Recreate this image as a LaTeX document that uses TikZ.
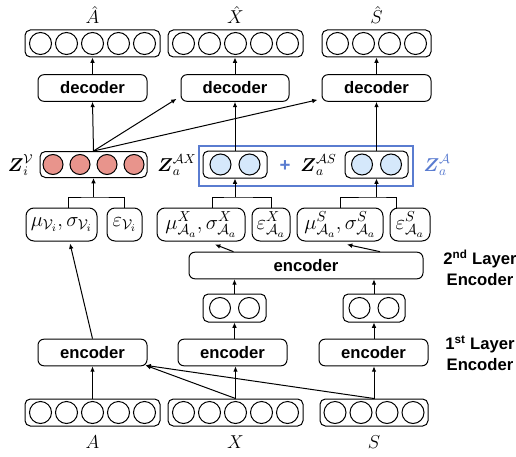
\RequirePackage{fix-cm}
\documentclass[tikz,border=0pt]{standalone}
\usepackage{amsmath}
\usepackage{fontspec}
\newfontfamily\hvfont{Liberation Sans}
\usetikzlibrary{arrows.meta,calc,positioning}

\definecolor{zblue}{RGB}{90,124,208}
\definecolor{cellred}{RGB}{232,148,140}
\definecolor{cellblue}{RGB}{213,232,251}

\tikzset{every picture/.style={line width=0.75pt}}
\tikzset{
  vecbox/.style={draw, rounded corners=4pt, minimum height=20.25pt, inner sep=0pt},
  cell/.style={draw, circle, inner sep=0pt, minimum size=16.5pt},
  codbox/.style={draw, rounded corners=4.5pt, minimum height=20pt, inner sep=0pt, font=\hvfont\bfseries\fontsize{12.5}{14}\selectfont},
  parbox/.style={draw, rounded corners=6pt, minimum height=24.75pt, inner sep=0pt, font=\fontsize{15.5}{17}\selectfont},
  varlab/.style={inner sep=0.75pt, font=\fontsize{14}{16}\selectfont},
  sidelab/.style={align=center, inner sep=0pt, font=\hvfont\bfseries\fontsize{12.5}{15.75}\selectfont},
  arr/.style={-{Latex[length=4pt,width=3.5pt]}},
}

\begin{document}
\begin{tikzpicture}[x=0.75pt,y=0.75pt,yscale=-1,xscale=1]
\useasboundingbox (0,0) rectangle (516,456);

% output vectors
\node[vecbox, minimum width=101.25pt] (Ahat) at (92.5,43.5) {};
\foreach \i in {1,...,5} \node[cell] (Ahat-\i) at ($(Ahat)+({(\i-3)*26},0)$) {};
\node[vecbox, minimum width=101.25pt] (Xhat) at (235.5,43.5) {};
\foreach \i in {1,...,5} \node[cell] (Xhat-\i) at ($(Xhat)+({(\i-3)*26},0)$) {};
\node[vecbox, minimum width=81.75pt] (Shat) at (376.5,43.5) {};
\foreach \i in {1,...,4} \node[cell] (Shat-\i) at ($(Shat)+({(\i-2.5)*26},0)$) {};

% Text Node
\node[varlab] (lAhat) at (92.5,15) {$\hat{A}$};
\node[varlab] (lXhat) at (235.5,15) {$\hat{X}$};
\node[varlab] (lShat) at (376.5,15) {$\hat{S}$};

% decoders
\node[codbox, minimum width=81.75pt] (dec1) at (92.5,88) {decoder};
\node[codbox, minimum width=81pt] (dec2) at (235,88) {decoder};
\node[codbox, minimum width=81.75pt] (dec3) at (376.5,88) {decoder};

% latent vectors
\node[vecbox, minimum width=80.25pt, minimum height=19.5pt] (zV) at (93.5,164.5) {};
\foreach \i in {1,...,4} \node[cell, fill=cellred, minimum size=15pt] (zV-\i) at ($(zV)+({(\i-2.5)*27},0)$) {};
\node[draw=zblue, line width=1.2pt, minimum width=160.5pt, minimum height=30pt, inner sep=0pt] (zA) at (306,166) {};
\node[vecbox, minimum width=48pt] (zAX) at (235,164.5) {};
\foreach \i in {1,2} \node[cell, fill=cellblue, minimum size=15.75pt] (zAX-\i) at ($(zAX)+({(\i-1.5)*29},0)$) {};
\node[vecbox, minimum width=47.25pt] (zAS) at (376.5,164.5) {};
\foreach \i in {1,2} \node[cell, fill=cellblue, minimum size=15.75pt] (zAS-\i) at ($(zAS)+({(\i-1.5)*29},0)$) {};

% Text Node
\node[varlab, anchor=east] (lzV) at (35,165) {$\boldsymbol{Z}_i^{\mathcal{V}}$};
\node[varlab, anchor=east] (lzAX) at (198,165) {$\boldsymbol{Z}_a^{\mathcal{A}X}$};
\node[varlab, text=zblue, font=\hvfont\bfseries\fontsize{14}{16}\selectfont] (plus) at (285,166) {+};
\node[varlab, anchor=east] (lzAS) at (338,165) {$\boldsymbol{Z}_a^{\mathcal{A}S}$};
\node[varlab, anchor=west, text=zblue] (lzA) at (422,165) {$\boldsymbol{Z}_a^{\mathcal{A}}$};

% mean / variance / noise
\node[parbox, minimum width=53.25pt] (muV) at (61.5,224.5) {$\mu_{\mathcal{V}_i},\sigma_{\mathcal{V}_i}$};
\node[parbox, minimum width=26.25pt] (epsV) at (124.5,224.5) {$\varepsilon_{\mathcal{V}_i}$};
\node[parbox, minimum width=66pt] (muX) at (201,224.5) {$\mu^{X}_{\mathcal{A}_a},\sigma^{X}_{\mathcal{A}_a}$};
\node[parbox, minimum width=28.5pt] (epsX) at (271,224.5) {$\varepsilon^{X}_{\mathcal{A}_a}$};
\node[parbox, minimum width=64.5pt] (muS) at (340,224.5) {$\mu^{S}_{\mathcal{A}_a},\sigma^{S}_{\mathcal{A}_a}$};
\node[parbox, minimum width=30pt] (epsS) at (410,224.5) {$\varepsilon^{S}_{\mathcal{A}_a}$};

% encoders
\node[codbox, minimum width=175.5pt] (enc2) at (306,265.5) {encoder};
\node[vecbox, minimum width=47.25pt, minimum height=21pt] (hX) at (234.5,308) {};
\foreach \i in {1,2} \node[cell, minimum size=15.75pt] (hX-\i) at ($(hX)+({(\i-1.5)*29},0)$) {};
\node[vecbox, minimum width=46.5pt, minimum height=21pt] (hS) at (374,308) {};
\foreach \i in {1,2} \node[cell, minimum size=15.75pt] (hS-\i) at ($(hS)+({(\i-1.5)*29},0)$) {};
\node[codbox, minimum width=81.75pt] (encA) at (92.5,352.5) {encoder};
\node[codbox, minimum width=81.75pt] (encX) at (232.5,352.5) {encoder};
\node[codbox, minimum width=81.75pt] (encS) at (373.5,352.5) {encoder};

% input vectors
\node[vecbox, minimum width=101.25pt] (A) at (92.5,412.5) {};
\foreach \i in {1,...,5} \node[cell] (A-\i) at ($(A)+({(\i-3)*26},0)$) {};
\node[vecbox, minimum width=101.25pt] (X) at (235.5,412.5) {};
\foreach \i in {1,...,5} \node[cell] (X-\i) at ($(X)+({(\i-3)*26},0)$) {};
\node[vecbox, minimum width=81pt] (S) at (374,412.5) {};
\foreach \i in {1,...,4} \node[cell] (S-\i) at ($(S)+({(\i-2.5)*26},0)$) {};

% Text Node
\node[varlab] (lA) at (92.5,442) {$A$};
\node[varlab] (lX) at (235.5,442) {$X$};
\node[varlab] (lS) at (374,442) {$S$};
\node[sidelab] (lay2) at (480,268) {2\textsuperscript{nd} Layer\\Encoder};
\node[sidelab] (lay1) at (480,353.5) {1\textsuperscript{st} Layer\\Encoder};

% connectors
\draw[arr] (A.north) -- (encA.south);
\draw[arr] (X.north) -- (X.north |- encX.south);
\draw[arr] (S.north) -- (S.north |- encS.south);
\draw[arr] (X.north) -- ($(encA.south east)+(-2,-1)$);
\draw[arr] (S.north) -- ($(encA.south east)+(-2,-1)$);
\draw[arr] (hX.south |- encX.north) -- (hX.south);
\draw[arr] (hS.south |- encS.north) -- (hS.south);
\draw[arr] (hX.north) -- (hX.north |- enc2.south);
\draw[arr] (hS.north) -- (hS.north |- enc2.south);
\draw[arr] ($(hX.north |- enc2.north)+(-1,0)$) -- ($(muX.south)+(14,3)$);
\draw[arr] ($(hS.north |- enc2.north)+(6,0)$) -- ($(muS.south)+(7,3)$);
\draw[arr] (encA.north) -- ($(muV.south)+(8.5,2)$);

\coordinate (jV) at (93.5,197);
\coordinate (jX) at (235,197);
\coordinate (jS) at (376.5,197);
\draw ($(muV.north)+(6.5,0)$) |- (jV) -| (epsV.north);
\draw ($(muX.north)+(11,0)$) |- (jX) -| (epsX.north);
\draw (muS.north) |- (jS) -| ($(epsS.north)+(-14,0)$);
\draw[arr] (jV) -- (zV.south);
\draw[arr] (jX) -- (zAX.south);
\draw[arr] (jS) -- (zAS.south);

\draw[arr] (zV.north) -- (dec1.south);
\draw[arr] (zV.north) -- ($(dec2.south west)+(-4,-3)$);
\draw[arr] (zV.north) -- ($(dec3.south west)+(-4,-2)$);
\draw[arr] (zAX.north) -- (dec2.south);
\draw[arr] (zAS.north) -- (dec3.south);
\draw[arr] (dec1.north) -- (Ahat.south);
\draw[arr] (dec2.north) -- (dec2.north |- Xhat.south);
\draw[arr] (dec3.north) -- (Shat.south);

\end{tikzpicture}
\end{document}
